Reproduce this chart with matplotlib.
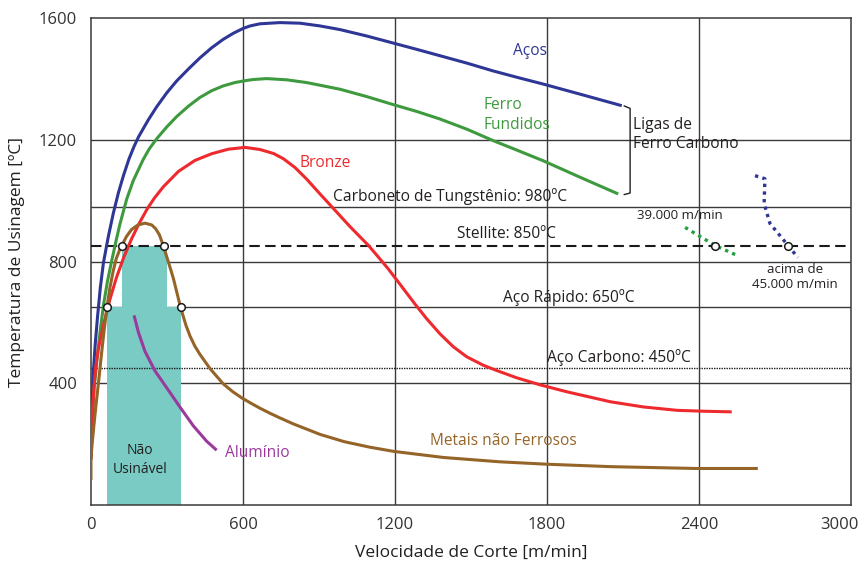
import numpy as np
import matplotlib
matplotlib.use('Agg')
from matplotlib import pyplot as plt
from matplotlib.transforms import ScaledTranslation

plt.rcParams['font.family'] = ['Open Sans', 'DejaVu Sans']

# curve points read as (cutting speed [m/min], temperature [C])
acos_v = [0, 3, 8, 16, 26, 37, 49, 68, 88, 108, 128, 150, 170, 188, 226, 259, 299, 338, 384, 430, 476, 522,
          562, 601, 628, 667, 746, 825, 904, 983, 1088, 1187, 1286, 1378, 1483, 1588, 1687, 1785, 1943, 2095]
acos_t = [157, 300, 420, 520, 620, 715, 795, 880, 958, 1025, 1082, 1137, 1178, 1210, 1265, 1308, 1354, 1393,
          1432, 1469, 1502, 1530, 1550, 1566, 1574, 1581, 1585, 1583, 1574, 1562, 1541, 1519, 1497, 1476, 1452,
          1426, 1404, 1383, 1347, 1312]

ferro_v = [0, 5, 12, 24, 36, 50, 65, 82, 99, 114, 141, 167, 206, 230, 259, 299, 338, 384, 430, 476, 522, 568,
           615, 641, 693, 772, 851, 917, 983, 1088, 1187, 1286, 1378, 1483, 1588, 1687, 1785, 1930, 2081]
ferro_t = [150, 280, 380, 480, 570, 660, 735, 803, 868, 922, 1005, 1066, 1135, 1170, 1203, 1242, 1276, 1310,
           1339, 1361, 1377, 1388, 1395, 1398, 1401, 1397, 1388, 1377, 1366, 1342, 1317, 1293, 1268, 1235, 1197,
           1164, 1131, 1077, 1022]

bronze_v = [0, 5, 12, 20, 28, 50, 75, 100, 130, 160, 190, 222, 250, 285, 345, 410, 476, 542, 608,
            667, 720, 759, 805, 851, 904, 956, 1022, 1095, 1141, 1174, 1220, 1279, 1325, 1378, 1430, 1483, 1549,
            1601, 1680, 1772, 1878, 1941, 2051, 2182, 2314, 2423, 2529]
bronze_t = [150, 290, 390, 460, 508, 594, 676, 746, 815, 874, 925, 973, 1008, 1045, 1096, 1132, 1154, 1169, 1175,
            1168, 1155, 1138, 1109, 1071, 1022, 975, 915, 853, 808, 775, 725, 660, 612, 562, 520, 487, 459,
            442, 418, 395, 372, 360, 339, 322, 311, 308, 306]

nao_ferrosos_v = [0, 0, 5, 12, 20, 30, 42, 52, 63, 75, 88, 100, 113, 125, 140, 160, 185, 213, 240, 255, 270,
                  285, 305, 325, 354, 375, 391, 410, 430, 470, 522, 560, 595, 630, 667, 705, 746, 800, 904, 1000,
                  1100, 1196, 1393, 1612, 1799, 2051, 2387, 2632]
nao_ferrosos_t = [82, 157, 205, 265, 330, 405, 500, 575, 650, 715, 770, 810, 838, 858, 882, 905, 920, 926, 920,
                  908, 888, 853, 800, 745, 648, 590, 555, 522, 495, 448, 398, 372, 352, 335, 318, 302, 286, 266,
                  232, 208, 190, 176, 156, 142, 134, 126, 120, 120]

aluminio_v = [170, 187, 213, 253, 299, 351, 404, 456, 496]
aluminio_t = [623, 568, 505, 440, 385, 322, 260, 210, 180]

# very high speed segments
v39000_v = [2345, 2463, 2550]
v39000_t = [912, 853, 820]
v45000_v = [2621, 2660, 2657, 2680, 2751, 2790]
v45000_t = [1082, 1072, 990, 925, 853, 813]

# tool limits
lim_carboneto = 980
lim_stellite = 850
lim_rapido = 650
lim_carbono = 450

# non machinable zone
zona_v = [63, 63, 122, 122, 300, 300, 355, 355]
zona_t = [0, 650, 650, 850, 850, 650, 650, 0]

pontos_v = [63, 122, 290, 355, 2463, 2751]
pontos_t = [650, 850, 850, 650, 850, 850]

x_ticks = [0, 600, 1200, 1800, 2400, 3000]
y_ticks = [400, 800, 1200, 1600]

txt = '#231f20'
grid = '#3a3a3a'

fig = plt.figure(figsize=(8.64, 5.65), dpi=100)
ax = fig.add_axes([0.1053, 0.1062, 0.8797, 0.8619])
ax.set_xlim(0, 3000)
ax.set_ylim(0, 1600)

for x in x_ticks[1:-1]:
    ax.axvline(x, color=grid, lw=1.0, zorder=1)
for y in [400, 800, 1200, lim_carboneto, lim_rapido]:
    ax.axhline(y, color=grid, lw=1.0, zorder=1)

ax.fill(zona_v, zona_t, color='#79cbc3', lw=0, zorder=2)

ax.axhline(lim_stellite, color='#1a1a1a', lw=1.5, dashes=(5, 2.6), zorder=3)
ax.axhline(lim_carbono, color='#1a1a1a', lw=1.0, ls=(0, (1, 0.8)), zorder=3)

kw = dict(lw=2.2, solid_capstyle='butt', solid_joinstyle='round')
ax.plot(acos_v, acos_t, color='#2e3795', zorder=4, **kw)
ax.plot(ferro_v, ferro_t, color='#3e9a3e', zorder=4, **kw)
ax.plot(bronze_v, bronze_t, color='#ee2a2e', zorder=4, **kw)
ax.plot(nao_ferrosos_v, nao_ferrosos_t, color='#956428', zorder=5, **kw)
ax.plot(aluminio_v, aluminio_t, color='#9a3a9c', zorder=4, **kw)
ax.plot(v39000_v, v39000_t, color='#22a040', lw=2.4, ls=(0, (1, 1.3)), zorder=4)
ax.plot(v45000_v, v45000_t, color='#2e3795', lw=2.4, ls=(0, (1, 1.3)), zorder=4)

ax.plot(pontos_v, pontos_t, ls='none', marker='o', ms=5.5, mfc='white', mec='#1a1a1a', mew=1.1, zorder=6)

# bracket for iron-carbon alloys
ax.plot([2105, 2128, 2128, 2105], [1311, 1303, 1025, 1020], color=txt, lw=1.0, zorder=4)

fs = 11.2
ax.text(1733, 1492, 'Aços', color='#2e3795', fontsize=fs, ha='center', va='center')
ax.text(1551, 1282, 'Ferro\nFundidos', color='#3e9a3e', fontsize=fs, ha='left', va='center', linespacing=1.35)
ax.text(825, 1125, 'Bronze', color='#ee2a2e', fontsize=fs, ha='left', va='center')
ax.text(2139, 1216, 'Ligas de\nFerro Carbono', color=txt, fontsize=fs, ha='left', va='center', linespacing=1.25)
ax.text(955, 1013, 'Carboneto de Tungstênio: 980ºC', color=txt, fontsize=fs, ha='left', va='center')
ax.text(1445, 889, 'Stellite: 850ºC', color=txt, fontsize=fs, ha='left', va='center')
ax.text(1626, 682, 'Aço Rápido: 650ºC', color=txt, fontsize=fs, ha='left', va='center')
ax.text(1800, 485, 'Aço Carbono: 450ºC', color=txt, fontsize=fs, ha='left', va='center')
ax.text(2155, 951, '39.000 m/min', color=txt, fontsize=9.5, ha='left', va='center')
ax.text(2779, 750, 'acima de\n45.000 m/min', color=txt, fontsize=9.5, ha='center', va='center', linespacing=1.2)
ax.text(193, 148, 'Não\nUsinável', color=txt, fontsize=10, ha='center', va='center', linespacing=1.3, zorder=7)
ax.text(529, 170, 'Alumínio', color='#9a3a9c', fontsize=fs, ha='left', va='center')
ax.text(1338, 210, 'Metais não Ferrosos', color='#956428', fontsize=fs, ha='left', va='center')

ax.set_xticks(x_ticks)
ax.set_yticks(y_ticks)
ax.tick_params(length=0, labelsize=12, labelcolor='#333333')
ax.tick_params(axis='x', pad=9)
ax.tick_params(axis='y', pad=10)
# last x label sits a bit inside the frame
last = ax.get_xticklabels()[-1]
last.set_transform(last.get_transform() + ScaledTranslation(-8 / 72, 0, fig.dpi_scale_trans))
for s in ax.spines.values():
    s.set_color(grid)
    s.set_linewidth(1.1)

ax.set_xlabel('Velocidade de Corte [m/min]', fontsize=12.5, color=txt, labelpad=8)
ax.set_ylabel('Temperatura de Usinagem [ºC]', fontsize=12.5, color=txt, labelpad=10)

fig.savefig('out.png', dpi=100)
